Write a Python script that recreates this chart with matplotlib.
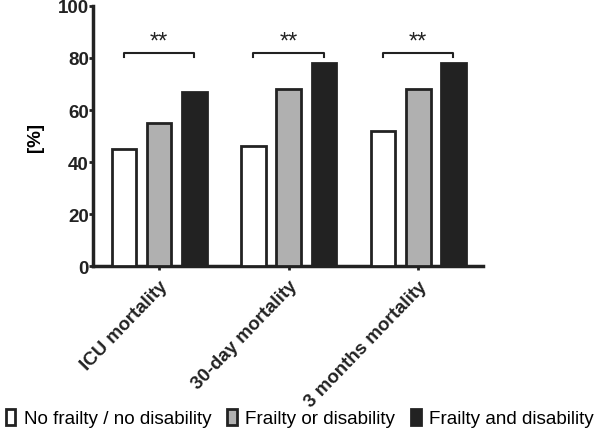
import matplotlib
matplotlib.use("Agg")
import matplotlib.pyplot as plt
from matplotlib.patches import Patch
import numpy as np

plt.rcParams["font.family"] = ["Liberation Sans", "DejaVu Sans"]

categories = ["ICU mortality", "30-day mortality", "3 months mortality"]
series = ["No frailty / no disability", "Frailty or disability", "Frailty and disability"]
no_frailty = [45, 46, 52]
frailty_or = [55, 68, 68]
frailty_and = [67, 78, 78]
colors = ["white", "#b0b0b0", "#222222"]
sig_labels = ["**", "**", "**"]
bracket_y = 82

fig = plt.figure(figsize=(6, 4.31), dpi=100)
ax = fig.add_axes([0.155, 0.38, 0.65, 0.604])

x = np.arange(len(categories))
width = 0.19
offset = 0.272
for i, (vals, c) in enumerate(zip([no_frailty, frailty_or, frailty_and], colors)):
    ax.bar(x + (i - 1) * offset, vals, width, color=c, edgecolor="#222222",
           linewidth=2, zorder=3)

# significance brackets between first and last bar of each group
for xi, lab in zip(x, sig_labels):
    x0 = xi - offset
    x1 = xi + offset
    ax.plot([x0, x0, x1, x1], [bracket_y - 1.5, bracket_y, bracket_y, bracket_y - 1.5],
            color="#222222", lw=1.5, zorder=4)
    ax.text(xi, bracket_y + 0.2, lab, ha="center", va="bottom", fontsize=17,
            color="#222222")

ax.set_xlim(-0.51, 2.5)
ax.set_ylim(0, 100)
ax.set_yticks([0, 20, 40, 60, 80, 100])
ax.set_xticks(x)
ax.set_xticklabels(categories, rotation=46, ha="right", rotation_mode="anchor",
                   fontsize=13.5, fontweight="bold")
for lab in ax.get_yticklabels():
    lab.set_fontweight("bold")
    lab.set_fontsize(13.5)
ax.set_ylabel("[%]", fontsize=13.5, fontweight="bold", labelpad=10)

for s in ["top", "right"]:
    ax.spines[s].set_visible(False)
for s in ["left", "bottom"]:
    ax.spines[s].set_linewidth(2.5)
    ax.spines[s].set_color("#222222")
ax.tick_params(axis="y", width=2, length=3, color="#222222", labelcolor="#222222", pad=0)
ax.tick_params(axis="x", width=2, length=3, color="#222222", labelcolor="#222222", pad=5)

handles = [Patch(facecolor=c, edgecolor="#222222", linewidth=2) for c in colors]
fig.legend(handles, series, loc="center", bbox_to_anchor=(0.5, 0.028), ncol=3,
           frameon=False, fontsize=13.6, handlelength=0.5, handleheight=0.95,
           handletextpad=0.45, columnspacing=0.85, borderaxespad=0.0, borderpad=0.0)

fig.savefig("out.png", dpi=100)
